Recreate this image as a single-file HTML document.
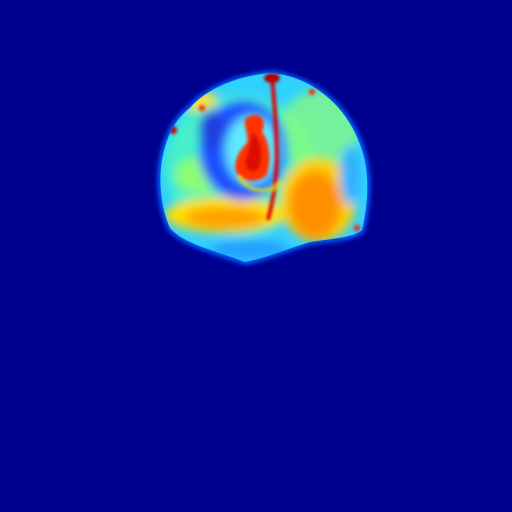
<!DOCTYPE html>
<html><head><meta charset="utf-8"><style>
html,body{margin:0;padding:0;background:#00008f;width:512px;height:512px;overflow:hidden}
</style></head><body>
<svg width="512" height="512" viewBox="0 0 512 512" xmlns="http://www.w3.org/2000/svg">
<defs>
<filter id="b1" x="-20%" y="-20%" width="140%" height="140%"><feGaussianBlur stdDeviation="2.5"/></filter>
<filter id="b2" x="-30%" y="-30%" width="160%" height="160%"><feGaussianBlur stdDeviation="5"/></filter>
<filter id="b3" x="-30%" y="-30%" width="160%" height="160%"><feGaussianBlur stdDeviation="1.5"/></filter>
<clipPath id="brainclip"><path d="M270 73 C245 75 210 85 190 108 C172 122 166 140 162 160 C158 185 162 210 170 228 C185 245 215 250 245 262 C265 258 290 248 310 242 C335 238 352 238 362 230 C368 205 370 175 362 150 C352 120 335 100 312 86 C298 78 285 74 270 73 Z"/></clipPath>
</defs>
<rect width="512" height="512" fill="#00008f"/>
<path filter="url(#b1)" fill="#0060ff" d="M270 71 C245 73 208 83 188 106 C170 120 163 140 159 160 C155 185 159 212 168 230 C185 248 215 254 245 265 C265 261 290 251 310 245 C335 241 354 241 364 232 C371 205 373 175 365 150 C355 118 337 98 313 84 C298 76 285 72 270 71 Z"/>
<g clip-path="url(#brainclip)">
<rect x="150" y="60" width="230" height="210" fill="#30d0ff"/>
<g filter="url(#b2)">
<ellipse cx="240" cy="165" rx="75" ry="70" fill="#50ffb0" opacity="0.7"/>
<ellipse cx="320" cy="130" rx="40" ry="40" fill="#90ff70" opacity="0.7"/>
<ellipse cx="225" cy="215" rx="60" ry="18" fill="#ffe000"/>
<ellipse cx="225" cy="218" rx="40" ry="11" fill="#ffa000"/>
<ellipse cx="318" cy="200" rx="38" ry="42" fill="#ffd000"/>
<ellipse cx="315" cy="205" rx="26" ry="34" fill="#ff9000"/>
<ellipse cx="200" cy="175" rx="25" ry="18" fill="#a0ff60" opacity="0.8"/>
<ellipse cx="243" cy="150" rx="44" ry="50" fill="#1e50ff"/>
<ellipse cx="212" cy="130" rx="13" ry="20" fill="#2040e0"/>
<ellipse cx="252" cy="150" rx="27" ry="35" fill="#60e8ff"/>
<ellipse cx="350" cy="175" rx="10" ry="30" fill="#30b0ff"/>
<ellipse cx="195" cy="100" rx="22" ry="10" fill="#ffe030"/>
<ellipse cx="250" cy="250" rx="40" ry="10" fill="#20a0ff"/>
</g>
<g filter="url(#b3)">
<path fill="#ff3000" d="M246 118 C258 110 268 118 262 132 C270 142 272 162 266 176 C256 184 242 182 236 172 C233 160 240 150 247 143 C249 133 242 124 246 118 Z"/>
<path d="M252 132 C262 138 264 158 258 170 C248 175 242 166 247 155 Z" fill="#d80000" opacity="0.85"/>
<path d="M272 76 C274 100 277 130 277 160 C276 185 272 205 268 220" stroke="#e00000" stroke-width="4" fill="none"/>
<ellipse cx="272" cy="78" rx="8" ry="5" fill="#b00000"/>
<circle cx="173" cy="130" r="4" fill="#c00000"/>
<circle cx="202" cy="108" r="3" fill="#ff2000"/>
<circle cx="312" cy="92" r="3" fill="#ff2000"/>
<circle cx="357" cy="228" r="3" fill="#ff2000"/>
<path d="M238 176 C250 194 270 194 282 182" stroke="#ffe000" stroke-width="4" fill="none" opacity="0.7"/>
</g>
</g>
</svg>
</body></html>
